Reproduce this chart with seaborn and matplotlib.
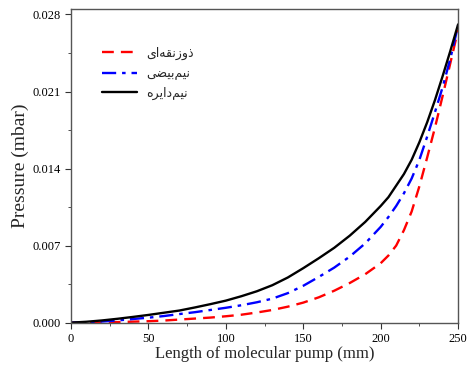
import pandas as pd
import matplotlib
matplotlib.use("Agg")
import matplotlib.pyplot as plt
import seaborn as sns
from matplotlib.ticker import MultipleLocator, FormatStrFormatter

# length along the pump (mm)
length_mm = [0, 10, 20, 30, 40, 50, 60, 70, 80, 90, 100, 110, 120, 130, 140, 150, 160, 170, 180, 190,
             200, 205, 210, 215, 220, 225, 230, 235, 240, 245, 250]

# pressure (mbar)
p_trapezoid = [0, 0.00000, 0.00002, 0.00005, 0.00009, 0.00013, 0.00019, 0.00028, 0.00037, 0.00046,
               0.00058, 0.00072, 0.00092, 0.00115, 0.00145, 0.00182, 0.00230, 0.00290, 0.00360, 0.00440,
               0.00540, 0.00610, 0.00700, 0.00840, 0.01010, 0.01240, 0.01500, 0.01770, 0.02060, 0.02360,
               0.02660]
p_semi_ellipse = [0, 0.00003, 0.00010, 0.00020, 0.00033, 0.00045, 0.00060, 0.00078, 0.00095, 0.00115,
                  0.00135, 0.00158, 0.00185, 0.00218, 0.00268, 0.00335, 0.00415, 0.00500, 0.00600, 0.00720,
                  0.00870, 0.00960, 0.01060, 0.01175, 0.01310, 0.01480, 0.01690, 0.01910, 0.02140, 0.02400,
                  0.02700]
p_semi_circle = [0, 0.00008, 0.00020, 0.00035, 0.00052, 0.00070, 0.00090, 0.00110, 0.00138, 0.00168,
                 0.00200, 0.00240, 0.00285, 0.00340, 0.00410, 0.00495, 0.00585, 0.00680, 0.00790, 0.00915,
                 0.01060, 0.01140, 0.01245, 0.01350, 0.01480, 0.01640, 0.01820, 0.02020, 0.02240, 0.02470,
                 0.02710]

# Persian labels, pre-shaped (presentation forms, visual order) since matplotlib has no RTL shaping
# ذوزنقه‌ای / نیم‌بیضی / نیم‌دایره
lbl_trapezoid = "\uFEEF\uFE8D\uFEEA\uFED8\uFEE7\uFEAF\uFEED\uFEAB"
lbl_semi_ellipse = "\uFEF0\uFEC0\uFEF4\uFE91\uFEE2\uFEF4\uFEE7"
lbl_semi_circle = "\uFEE9\uFEAE\uFEF3\uFE8D\uFEA9\uFEE2\uFEF4\uFEE7"

sns.set_style("ticks")
plt.rcParams['font.family'] = ['Liberation Serif', 'DejaVu Sans']

fig = plt.figure(figsize=(4.67, 3.73), dpi=100)
ax = fig.add_axes([0.152, 0.135, 0.829, 0.841])

df = pd.DataFrame({'x': length_mm, 'trap': p_trapezoid, 'ell': p_semi_ellipse, 'circ': p_semi_circle})

sns.lineplot(data=df, x='x', y='trap', ax=ax, color='#ff0000', lw=1.7,
             label=lbl_trapezoid).lines[-1].set_dashes((5, 3))
sns.lineplot(data=df, x='x', y='ell', ax=ax, color='#0000ff', lw=1.7,
             label=lbl_semi_ellipse).lines[-1].set_dashes((6, 2.5, 1.5, 2.5))
sns.lineplot(data=df, x='x', y='circ', ax=ax, color='black', lw=1.7, label=lbl_semi_circle)

ax.set_xlim(0, 250)
ax.set_ylim(0, 0.0285)
ax.xaxis.set_major_locator(MultipleLocator(50))
ax.xaxis.set_minor_locator(MultipleLocator(25))
ax.yaxis.set_major_locator(MultipleLocator(0.007))
ax.yaxis.set_minor_locator(MultipleLocator(0.0035))
ax.yaxis.set_major_formatter(FormatStrFormatter('%.3f'))
ax.tick_params(which='both', direction='out', colors='#333333', labelsize=9, labelcolor='black')
ax.tick_params(which='major', length=4)
ax.tick_params(which='minor', length=2.5)
for s in ax.spines.values():
    s.set_color('#555555')
    s.set_linewidth(1.0)

ax.set_xlabel("Length of molecular pump (mm)", fontsize=12, labelpad=1)
ax.set_ylabel("Pressure (mbar)", fontsize=14, labelpad=2)

leg = ax.legend(loc='upper left', bbox_to_anchor=(0.05, 0.915), frameon=False, handlelength=2.8,
                labelspacing=0.55, prop={'family': ['DejaVu Sans'], 'size': 9})

fig.savefig('out.png', dpi=100)
